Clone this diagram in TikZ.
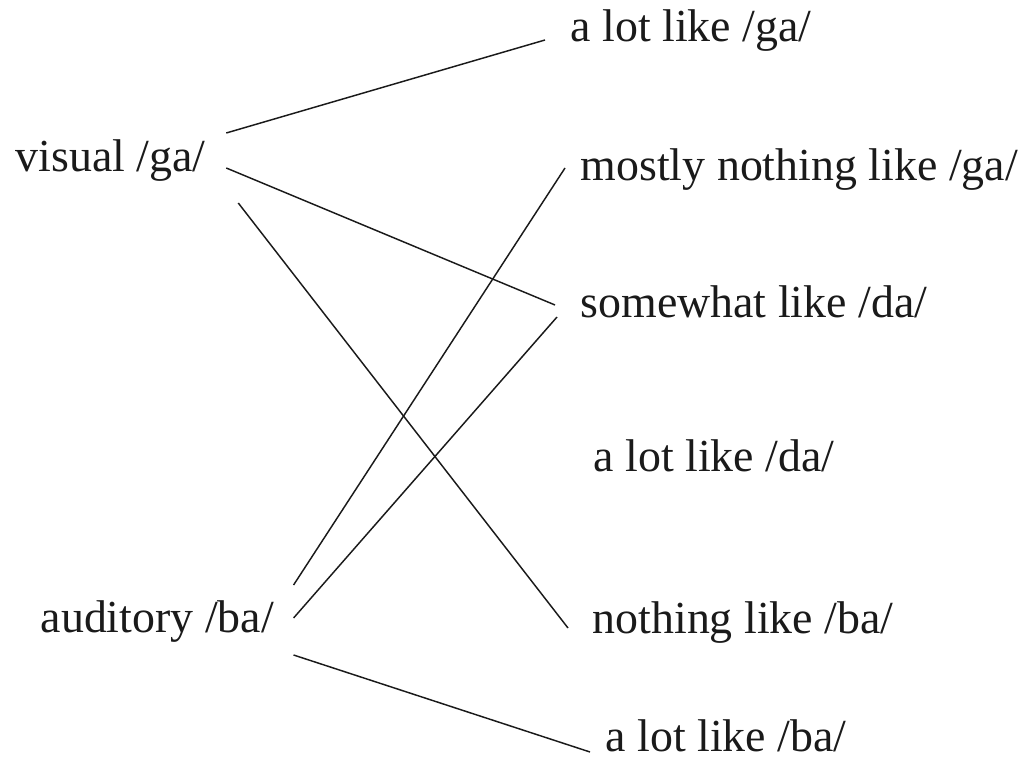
\documentclass[tikz,border=0pt]{standalone}
\usepackage{fontspec}
\setmainfont{Liberation Serif}
\usetikzlibrary{positioning}
\definecolor{cink}{HTML}{1A1A1A}
\tikzset{
  every picture/.style={line width=1.1pt},
  word/.style={anchor=base west, inner sep=0pt, text=cink, font=\fontsize{34.4}{40}\selectfont},
  link/.style={draw=cink, line width=1.1pt},
}

\begin{document}
\begin{tikzpicture}[x=0.75pt, y=-0.75pt]
  \useasboundingbox (0,0) rectangle (1020,762);
  % stimuli on the left
  \node[word] (vis) at (15,172) {visual /ga/};
  \node[word] (aud) at (40,632) {auditory /ba/};
  % percepts on the right
  \node[word] (alga) at (570,42) {a lot like /ga/};
  \node[word] (mnga) at (580,181) {mostly nothing like /ga/};
  \node[word] (swda) at (580,318) {somewhat like /da/};
  \node[word] (alda) at (593,471) {a lot like /da/};
  \node[word] (noba) at (592,633) {nothing like /ba/};
  \node[word] (alba) at (605,751) {a lot like /ba/};
  % links
  \draw[link] ([shift={(20,-39)}]vis.base east) -- ([shift={(-25,-2)}]alga.base west);
  \draw[link] ([shift={(20,-4)}]vis.base east) -- ([shift={(-25,-13)}]swda.base west);
  \draw[link] ([shift={(32,31)}]vis.base east) -- ([shift={(-24,-5)}]noba.base west);
  \draw[link] ([shift={(19,-47)}]aud.base east) -- ([shift={(-15,-13)}]mnga.base west);
  \draw[link] ([shift={(19,-14)}]aud.base east) -- ([shift={(-23,-1)}]swda.base west);
  \draw[link] ([shift={(19,23)}]aud.base east) -- ([shift={(-15,1)}]alba.base west);
\end{tikzpicture}
\end{document}
